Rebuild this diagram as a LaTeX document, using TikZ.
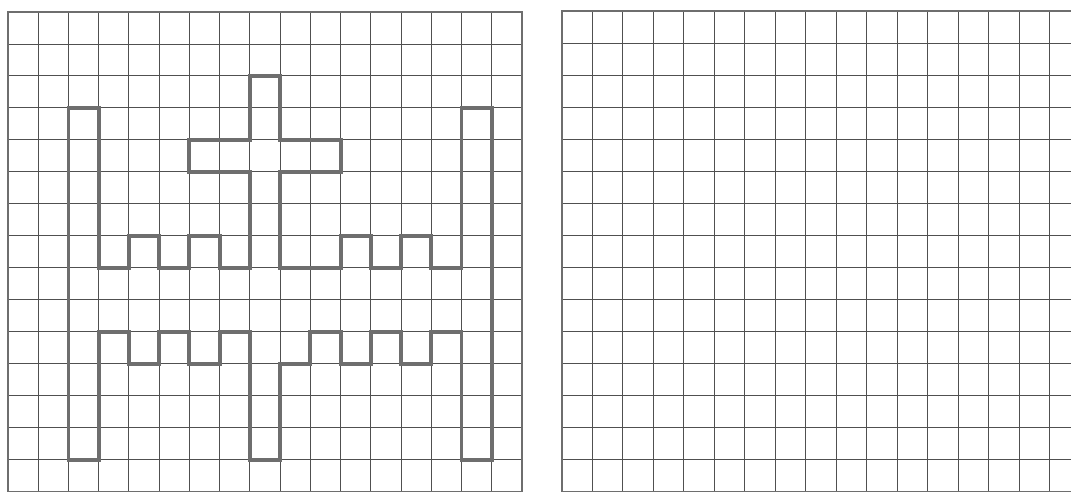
\documentclass[tikz,border=0pt]{standalone}
\usetikzlibrary{positioning}
\definecolor{gridink}{RGB}{80, 80, 80}
\definecolor{penink}{RGB}{110, 110, 110}

\begin{document}
\begin{tikzpicture}[
    x=0.02cm, y=-0.02cm,
    gridline/.style={gridink, line width=0.55pt},
    frameline/.style={penink, line width=1.5pt},
    figline/.style={penink, line width=2.2pt, line join=miter},
]

\def\cols{17}
\def\rows{15}

% --- Page (1071 x 492 px) ---
\useasboundingbox (0,0) rectangle (1071,492);
\clip (0,0) rectangle (1071,492);

% --- Left grid with the figure ---
\begin{scope}[shift={(0.16cm,-0.24cm)}, x=0.6048cm, y=-0.64cm]
  \foreach \i in {1,...,16}
    \draw[gridline] (\i,0) -- (\i,\rows);
  \foreach \j in {1,...,14}
    \draw[gridline] (0,\j) -- (\cols,\j);
  \draw[frameline] (0,0) rectangle (\cols,\rows);

  % figure outline (one closed path)
  \draw[figline]
    (2,3) -- (3,3) -- (3,8) -- (4,8) -- (4,7) -- (5,7) -- (5,8) -- (6,8)
    -- (6,7) -- (7,7) -- (7,8) -- (8,8) -- (8,5) -- (6,5) -- (6,4) -- (8,4)
    -- (8,2) -- (9,2) -- (9,4) -- (11,4) -- (11,5) -- (9,5) -- (9,8)
    -- (11,8) -- (11,7) -- (12,7) -- (12,8) -- (13,8) -- (13,7) -- (14,7)
    -- (14,8) -- (15,8) -- (15,3) -- (16,3) -- (16,14) -- (15,14)
    -- (15,10) -- (14,10) -- (14,11) -- (13,11) -- (13,10) -- (12,10)
    -- (12,11) -- (11,11) -- (11,10) -- (10,10) -- (10,11) -- (9,11)
    -- (9,14) -- (8,14) -- (8,10) -- (7,10) -- (7,11) -- (6,11) -- (6,10)
    -- (5,10) -- (5,11) -- (4,11) -- (4,10) -- (3,10) -- (3,14) -- (2,14)
    -- cycle;
\end{scope}

% --- Right grid (empty, cut at the page edge) ---
\begin{scope}[shift={(11.24cm,-0.22cm)}, x=0.61cm, y=-0.6415cm]
  \foreach \i in {1,...,16}
    \draw[gridline] (\i,0) -- (\i,\rows);
  \foreach \j in {1,...,14}
    \draw[gridline] (0,\j) -- (\cols,\j);
  \draw[frameline] (0,0) rectangle (\cols,\rows);
\end{scope}

\end{tikzpicture}
\end{document}
